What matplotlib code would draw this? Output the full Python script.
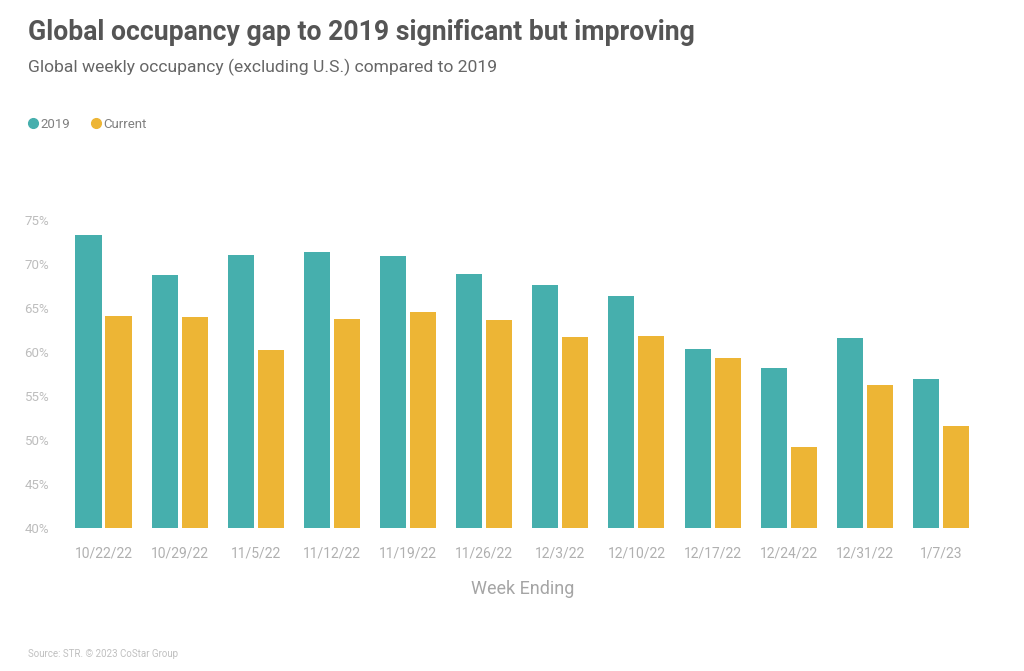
import numpy as np
import matplotlib
matplotlib.use("Agg")
import matplotlib.pyplot as plt
from matplotlib import font_manager
from matplotlib.lines import Line2D

# Data
weeks = ['10/22/22', '10/29/22', '11/5/22', '11/12/22', '11/19/22', '11/26/22',
         '12/3/22', '12/10/22', '12/17/22', '12/24/22', '12/31/22', '1/7/23']
occ_2019 = [73.3, 68.7, 71.0, 71.4, 70.9, 68.9, 67.6, 66.4, 60.3, 58.2, 61.6, 56.9]
occ_current = [64.1, 64.0, 60.2, 63.8, 64.5, 63.6, 61.7, 61.8, 59.3, 49.2, 56.3, 51.6]
y_ticks = [40, 45, 50, 55, 60, 65, 70, 75]

teal = '#46AFAD'
gold = '#EDB535'

# pick a narrow font if one is around
names = {f.name for f in font_manager.fontManager.ttflist}
narrow = 'Liberation Sans Narrow' if 'Liberation Sans Narrow' in names else 'Roboto'
plt.rcParams['font.family'] = [narrow, 'DejaVu Sans']

fig = plt.figure(figsize=(10.24, 6.71), dpi=100)
ax = fig.add_axes([0.059, 1 - 528 / 671, 0.902, (528 - 220) / 671])

x = np.arange(len(weeks))
w = 0.342
off = 0.197
ax.bar(x - off, occ_2019, width=w, color=teal)
ax.bar(x + off, occ_current, width=w, color=gold)

ax.set_ylim(40, 75)
ax.set_xlim(-0.566, len(weeks) - 1 + 0.566)
ax.set_yticks(y_ticks)
ax.set_yticklabels([f'{v}%' for v in y_ticks], color='#bdbdbd', fontsize=9.5)
ax.set_xticks(x)
ax.set_xticklabels(weeks, color='#b0b0b0', fontsize=10)
ax.tick_params(length=0, axis='y', pad=8)
ax.tick_params(length=0, axis='x', pad=13)
for s in ax.spines.values():
    s.set_visible(False)
ax.set_xlabel('Week Ending', color='#a5a5a5', fontsize=13, labelpad=14)

fig.text(0.027, 0.951, 'Global occupancy gap to 2019 significant but improving',
         fontsize=19.2, fontweight='bold', color='#555555', va='center')
fig.text(0.027, 0.900, 'Global weekly occupancy (excluding U.S.) compared to 2019',
         fontsize=12.6, color='#666666', va='center')
fig.text(0.027, 0.025, 'Source: STR. \u00a9 2023 CoStar Group',
         fontsize=7, color='#c0c0c0', va='center')

handles = [Line2D([], [], marker='o', linestyle='', color=teal, markersize=7),
           Line2D([], [], marker='o', linestyle='', color=gold, markersize=7)]
fig.legend(handles, ['2019', 'Current'], loc='center left', bbox_to_anchor=(0.014, 0.815),
           ncol=2, frameon=False, fontsize=9.5, labelcolor='#808080',
           handletextpad=0.05, columnspacing=1.5, handlelength=1.0)

fig.savefig('out.png', dpi=100, facecolor='white')
